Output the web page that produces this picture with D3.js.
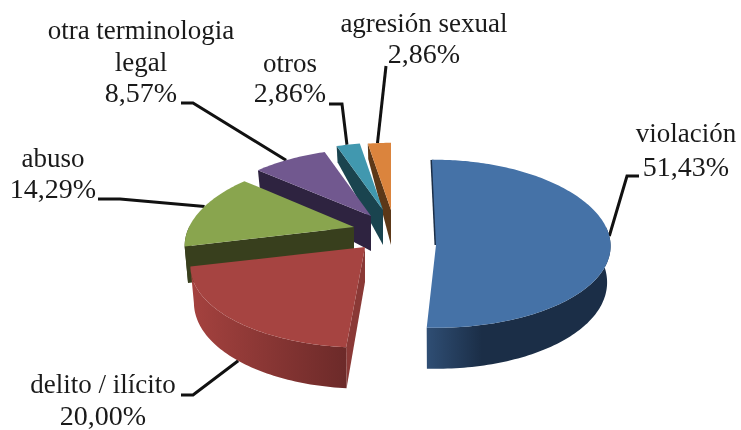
<!DOCTYPE html>
<html><head><meta charset="utf-8">
<script src="https://cdnjs.cloudflare.com/ajax/libs/d3/7.8.5/d3.min.js"></script>
<style>
html,body{margin:0;padding:0;background:#fff}
svg{display:block;filter:blur(0.6px)}
text{font-family:"Liberation Serif",serif;font-size:27px;fill:#1a1a1a;text-anchor:middle}
text.val{font-size:28px}
</style></head><body>
<svg id="c" width="741" height="430"></svg>
<script>
// data
const categories = ["violación","delito / ilícito","abuso","otra terminología legal","otros","agresión sexual"];
const values = [51.43,20.00,14.29,8.57,2.86,2.86];
const valueLabels = ["51,43%","20,00%","14,29%","8,57%","2,86%","2,86%"];
const labelLines = [["violación"],["delito / ilícito"],["abuso"],["otra terminologia","legal"],["otros"],["agresión sexual"]];
// styles
const topColors = ["#4572a7","#a64441","#89a54e","#71588f","#4198af","#db843d"];
const wallColors = ["#1c2f48","#8a3936","#383f1d","#2e2340","#1a444f","#5c3818"];
const rimLeft = ["#2f4e74","#a5423f","#383f1d","#2e2340","#1a444f","#5c3818"];
const rimRight = ["#1b2e47","#6c2a29","#383f1d","#2e2340","#1a444f","#5c3818"];
// layout: apex of each exploded slice, label anchors, leader elbows
const apexX = [436,365,354,371,383,391];
const apexY = [227,247,227,216,210,210];
const rxScale = [1,1,0.97,1,1,1];
const angleTrim = [[-1.8,-2.6],[0,0],[0,0],[0,0],[0,0],[0,0]];
const labelX = [686,103,53,141,290,424];
const labelY = [142,393,167,39,72,32];
const lineGap = [34,32,31,31.5,30,31];
const elbowStart = [[639,176],[181,395],[98,199],[181,103],[329,104],[386,66]];
const elbowMid = [[627,176],[193,395],[120,199],[193,103],[342,104],[386,66]];
const leaderAngle = [96,220,285,322,344,354];
const leaderOnBase = [false,true,false,false,false,false];

const svg = d3.select("#c");
const color = d3.scaleOrdinal(categories, topColors);
const wall = d3.scaleOrdinal(categories, wallColors);
const pie = d3.pie().sort(null).value(d => d.v)
  .startAngle(0).endAngle(2*Math.PI);
const arcs = pie(categories.map((c,i) => ({c, v: values[i], i})));

const rx = 170, ry = 84, px = 0.24, py = 0.2;
const xs = d3.scaleLinear().domain([-1,1]).range([-rx,rx]);
const ys = d3.scaleLinear().domain([-1,1]).range([-ry,ry]);
const depth = v => v >= 0 ? 35 + 6*v : 35 + 20*v;
function rim(i, a, drop) {
  const u = Math.sin(a), v = -Math.cos(a);
  const dx = xs(u*(1+px*v))*rxScale[i]*(drop ? 0.98 : 1);
  return [apexX[i] + dx, apexY[i] + ys(v*(1+py*v)) + (drop ? depth(v) : 0)];
}
const line = d3.line().curve(d3.curveLinear);
const rad = d => d*Math.PI/180;
function samples(a0,a1){ const n = Math.max(4,Math.ceil((a1-a0)/0.02)); return d3.range(n+1).map(k => a0+(a1-a0)*k/n); }

const defs = svg.append("defs");
arcs.forEach((d,i) => {
  const g = defs.append("linearGradient").attr("id","rim"+i);
  g.append("stop").attr("offset","0").attr("stop-color", rimLeft[i]);
  g.append("stop").attr("offset", i===0 ? "0.3" : "1").attr("stop-color", rimRight[i]);
  if (i===0) g.append("stop").attr("offset","1").attr("stop-color", rimRight[i]);
});

const leaders = svg.append("g");
// slices, back to front
[5,4,3,2,1,0].forEach(i => {
  const d = arcs[i];
  const a0 = d.startAngle + rad(angleTrim[i][0]);
  const a1 = d.endAngle + rad(angleTrim[i][1]);
  const g = svg.append("g").datum(d);
  const apexT = [apexX[i], apexY[i]];
  const apexFace = i===0 ? [apexX[i], apexY[i]+18] : apexT;
  const apexB = [apexX[i], apexY[i]+35];
  if (i===0) {
    g.append("path").attr("d", line([rim(i,a0,false), apexFace]))
      .attr("fill","none").attr("stroke",wall(d.data.c)).attr("stroke-width",3);
  } else {
    g.append("path").attr("d", line([rim(i,a0,false), apexT, apexB, rim(i,a0,true)]) + "Z")
      .attr("fill", wall(d.data.c));
  }
  // outer wall: only the front half of the ring is visible
  const ang = samples(a0, a1).filter(a => -Math.cos(a) >= -0.02);
  if (ang.length > 1) {
    const top = ang.map(a => rim(i,a,false));
    const bot = ang.map(a => rim(i,a,true)).reverse();
    g.append("path").attr("d", line(top.concat(bot)) + "Z").attr("fill", `url(#rim${i})`);
  }
  // top face
  const pts = samples(a0,a1).map(a => rim(i,a,false));
  g.append("path").attr("d", line([apexFace].concat(pts)) + "Z").attr("fill", color(d.data.c));
});

// leader lines and labels
arcs.forEach((d,i) => {
  const end = rim(i, rad(leaderAngle[i]), leaderOnBase[i]);
  leaders.append("path").attr("d", line([elbowStart[i], elbowMid[i], end]))
    .attr("fill","none").attr("stroke","#111").attr("stroke-width",3);
  const lines = labelLines[i].concat([valueLabels[i]]);
  const t = svg.append("g");
  lines.forEach((s,k) => {
    t.append("text").attr("class", k===lines.length-1 ? "val" : null)
      .attr("x",labelX[i]).attr("y",labelY[i]+k*lineGap[i]).text(s);
  });
});
</script>
</body></html>
